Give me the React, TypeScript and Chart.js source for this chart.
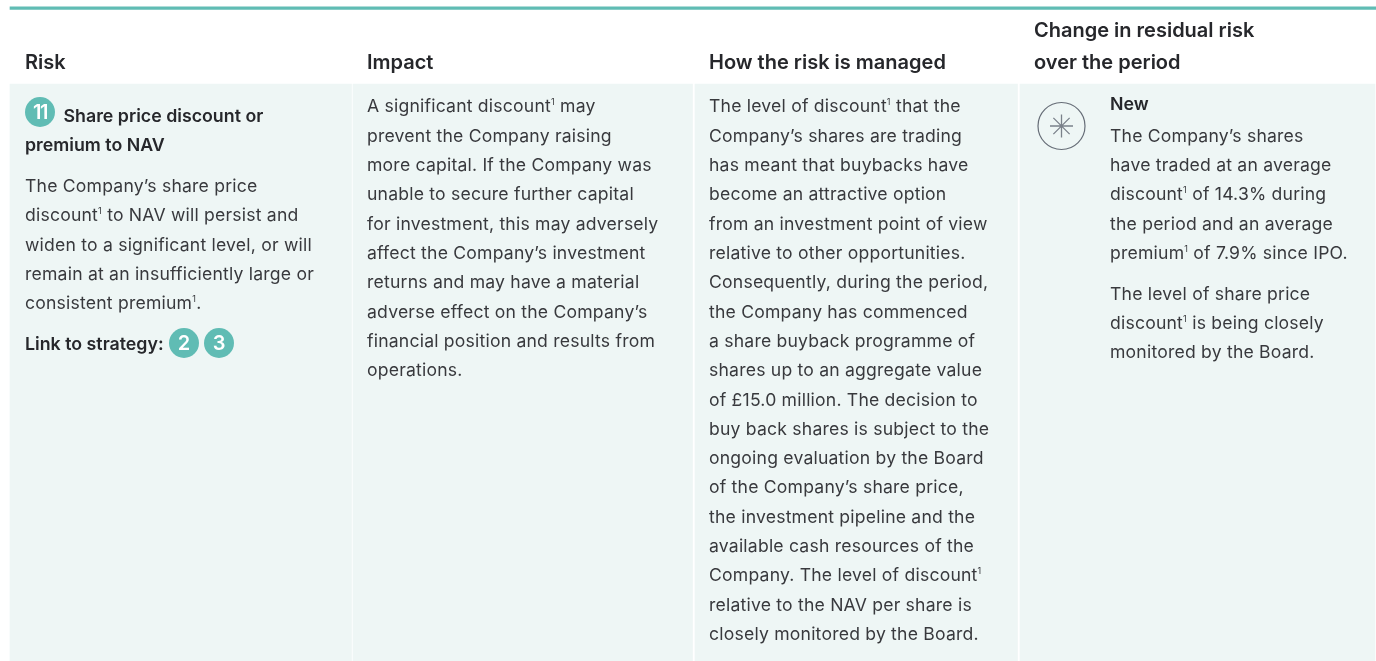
import React, { useEffect, useRef } from "react";
import { Chart, registerables } from "chart.js";

Chart.register(...registerables);

const WIDTH = 1376;
const HEIGHT = 661;
const FONT = "Inter";
const INK = "#38393d";
const HEAD_INK = "#26272b";
const PANEL = "#eef6f5";
const TEAL = "#60bcb4";

const columnSpans: [number, number][] = [[10, 351.5], [353, 692.5], [695, 1017.5], [1020, 1375]];
const panelTop = 84;
const ruleSpan: [number, number] = [10, 1376];

const headerLines: [string, number, number][] = [
  ["Risk", 25, 68.5],
  ["Impact", 367, 68.5],
  ["How the risk is managed", 709, 68.5],
  ["Change in residual risk", 1034, 36.5],
  ["over the period", 1034, 68.5],
];
const titleLines: [string, number, number][] = [
  ["Share price discount or", 63.5, 122],
  ["premium to NAV", 25, 151],
  ["Link to strategy:", 25, 350],
  ["New", 1110, 110],
];
const riskLines = [
  "The Company’s share price",
  "discount¹ to NAV will persist and",
  "widen to a significant level, or will",
  "remain at an insufficiently large or",
  "consistent premium¹.",
];
const impactLines = [
  "A significant discount¹ may",
  "prevent the Company raising",
  "more capital. If the Company was",
  "unable to secure further capital",
  "for investment, this may adversely",
  "affect the Company’s investment",
  "returns and may have a material",
  "adverse effect on the Company’s",
  "financial position and results from",
  "operations.",
];
const managedLines = [
  "The level of discount¹ that the",
  "Company’s shares are trading",
  "has meant that buybacks have",
  "become an attractive option",
  "from an investment point of view",
  "relative to other opportunities.",
  "Consequently, during the period,",
  "the Company has commenced",
  "a share buyback programme of",
  "shares up to an aggregate value",
  "of £15.0 million. The decision to",
  "buy back shares is subject to the",
  "ongoing evaluation by the Board",
  "of the Company’s share price,",
  "the investment pipeline and the",
  "available cash resources of the",
  "Company. The level of discount¹",
  "relative to the NAV per share is",
  "closely monitored by the Board.",
];
const changeLinesA = [
  "The Company’s shares",
  "have traded at an average",
  "discount¹ of 14.3% during",
  "the period and an average",
  "premium¹ of 7.9% since IPO.",
];
const changeLinesB = [
  "The level of share price",
  "discount¹ is being closely",
  "monitored by the Board.",
];
const badges: { x: number; y: number; label: string }[] = [
  { x: 40, y: 112, label: "11" },
  { x: 184, y: 343, label: "2" },
  { x: 219, y: 343, label: "3" },
];
const iconCentre = { x: 1061.5, y: 126 };

const LEADING = 29.33;
const BODY_SIZE = 17.6;
const BODY_TRACKING = "0.2px";
const TITLE_SIZE = 17.8;
const HEAD_SIZE = 20;

function drawBody(ctx: CanvasRenderingContext2D, text: string, x: number, y: number) {
  const parts = text.split("¹");
  let cursor = x;
  parts.forEach((part, i) => {
    (ctx as any).letterSpacing = BODY_TRACKING;
    ctx.font = `400 ${BODY_SIZE}px ${FONT}`;
    ctx.fillText(part, cursor, y);
    cursor += ctx.measureText(part).width;
    if (i < parts.length - 1) {
      (ctx as any).letterSpacing = "0px";
      ctx.font = `400 9px ${FONT}`;
      ctx.fillText("1", cursor, y - 7);
      cursor += ctx.measureText("1").width + 0.3;
    }
  });
}

const tableText = {
  id: "tableText",
  afterDatasetsDraw(chart: Chart) {
    const ctx = chart.ctx;
    ctx.save();
    ctx.textBaseline = "alphabetic";
    ctx.textAlign = "left";

    ctx.fillStyle = HEAD_INK;
    ctx.font = `600 ${HEAD_SIZE}px ${FONT}`;
    headerLines.forEach(([t, x, y]) => ctx.fillText(t, x, y));
    ctx.font = `600 ${TITLE_SIZE}px ${FONT}`;
    titleLines.forEach(([t, x, y]) => ctx.fillText(t, x, y));

    ctx.fillStyle = INK;
    riskLines.forEach((t, i) => drawBody(ctx, t, 25, 192 + i * LEADING));
    impactLines.forEach((t, i) => drawBody(ctx, t, 367, 112.2 + i * LEADING));
    managedLines.forEach((t, i) => drawBody(ctx, t, 709, 112.2 + i * LEADING));
    changeLinesA.forEach((t, i) => drawBody(ctx, t, 1110, 141.6 + i * LEADING));
    changeLinesB.forEach((t, i) => drawBody(ctx, t, 1110, 299.8 + i * LEADING));

    ctx.fillStyle = "#ffffff";
    ctx.textAlign = "center";
    ctx.textBaseline = "middle";
    ctx.font = `600 20px ${FONT}`;
    badges.forEach((b) => {
      (ctx as any).letterSpacing = b.label.length > 1 ? "-1.5px" : "0px";
      ctx.fillText(b.label, chart.scales.x.getPixelForValue(b.x), chart.scales.y.getPixelForValue(b.y) + 1);
    });
    ctx.restore();
  },
};

export default function App() {
  const ref = useRef<HTMLCanvasElement>(null);
  useEffect(() => {
    document.body.style.margin = "0";
    const panelDatasets = columnSpans.map(([a, b]) => ({
      type: "bar" as const,
      indexAxis: "y" as const,
      grouped: false,
      order: 3,
      data: [{ x: [a, b], y: (panelTop + HEIGHT) / 2 }],
      barThickness: HEIGHT - panelTop,
      backgroundColor: PANEL,
      borderWidth: 0,
      borderSkipped: false,
    }));
    const chart = new Chart(ref.current as HTMLCanvasElement, {
      type: "bar",
      data: {
        datasets: [
          ...panelDatasets,
          {
            type: "bar",
            indexAxis: "y",
            grouped: false,
            order: 3,
            data: [{ x: ruleSpan, y: 8.2 }],
            barThickness: 2.6,
            backgroundColor: TEAL,
            borderWidth: 0,
          },
          {
            type: "scatter",
            order: 2,
            data: badges.map((b) => ({ x: b.x, y: b.y })),
            pointRadius: 15,
            pointBackgroundColor: TEAL,
            pointBorderWidth: 0,
            showLine: false,
          },
          {
            type: "scatter",
            order: 2,
            data: [iconCentre],
            pointRadius: 23.5,
            pointBackgroundColor: "rgba(0,0,0,0)",
            pointBorderColor: "#666d77",
            pointBorderWidth: 1.2,
            showLine: false,
          },
          {
            type: "scatter",
            order: 1,
            data: [iconCentre],
            pointStyle: "star",
            pointRadius: 11.5,
            pointBorderColor: "#7a818a",
            pointBorderWidth: 1.3,
            showLine: false,
          },
        ],
      } as any,
      options: {
        responsive: false,
        animation: false,
        layout: { padding: 0, autoPadding: false },
        plugins: { legend: { display: false }, tooltip: { enabled: false } },
        events: [],
        scales: {
          x: { type: "linear", display: false, min: 0, max: WIDTH, offset: false },
          y: { type: "linear", display: false, min: 0, max: HEIGHT, reverse: true, offset: false },
        },
      },
      plugins: [tableText],
    });
    return () => chart.destroy();
  }, []);
  return <canvas ref={ref} width={WIDTH} height={HEIGHT} style={{ display: "block" }} />;
}
